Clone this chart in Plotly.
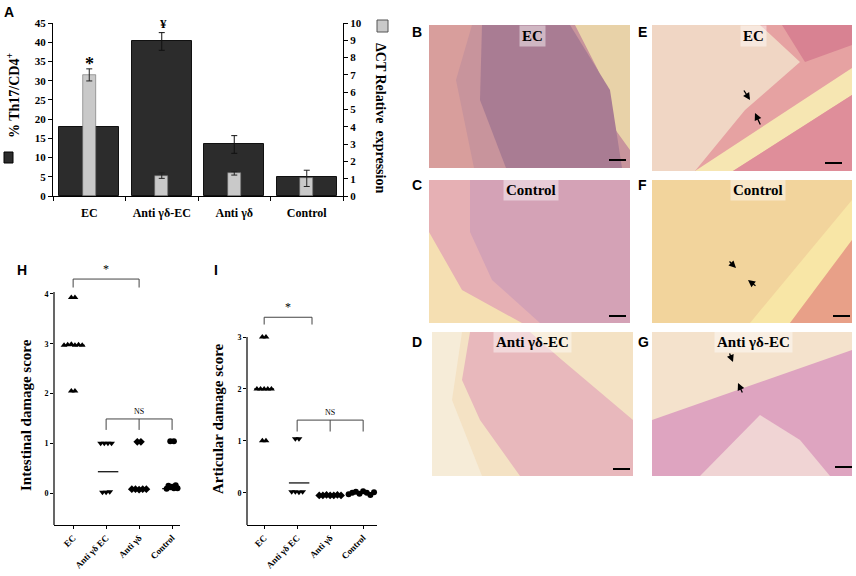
"""
Th17 / gamma-delta figure: bar chart (A), histology placeholders (B-G)
and damage score dot plots (H, I), all in one Plotly page.
"""

import plotly.graph_objects as go

W, H = 856, 576
SERIF = "Liberation Serif"
SANS = "Liberation Sans"

# ---- panel A data ----
GROUPS_A = ["EC", "Anti γδ-EC", "Anti γδ", "Control"]
TH17_PCT = [17.9, 40.2, 13.4, 5.0]
TH17_ERR = [0.0, 2.3, 2.3, 0.0]
DCT_REL = [7.0, 1.18, 1.31, 1.02]
DCT_ERR = [0.35, 0.16, 0.1, 0.47]

# ---- panels H / I data ----
SCORE_GROUPS = ["EC", "Anti γδ EC", "Anti γδ", "Control"]
INTESTINAL = [
    [3.93, 3.93, 2.97, 2.98, 2.99, 2.97, 2.98, 2.97, 2.05, 2.05],
    [1.0, 1.0, 1.0, 1.0, 0.02, 0.02, 0.03],
    [1.03, 1.03, 0.08, 0.08, 0.07, 0.08, 0.08],
    [1.04, 1.04, 0.09, 0.12, 0.15, 0.1, 0.13, 0.16, 0.1],
]
INTESTINAL_LINE = [2.97, 0.43, 0.08, 0.09]
ARTICULAR = [
    [3.0, 3.0, 2.0, 2.0, 2.0, 2.0, 2.0, 1.0, 1.0],
    [1.04, 1.04, 0.02, 0.02, 0.01, 0.02],
    [-0.05, -0.05, -0.04, -0.05, -0.05, -0.04, -0.05],
    [-0.03, 0.0, 0.02, -0.02, 0.03, 0.0, -0.04, 0.01, 0.02],
]
ARTICULAR_LINE = [2.0, 0.19, -0.05, 0.0]
SYMBOLS = ["triangle-up", "triangle-down", "diamond", "circle"]


def px(x):
    return x / W


def py(y):
    return 1 - y / H


def beeswarm(values, spacing=0.11, bin_size=0.25):
    # spread points that share a row evenly around the group centre
    rows = {}
    for i, v in enumerate(values):
        rows.setdefault(round(v / bin_size), []).append(i)
    offsets = [0.0] * len(values)
    for idx in rows.values():
        k = len(idx)
        for j, i in enumerate(idx):
            offsets[i] = (j - (k - 1) / 2) * spacing
    return offsets


fig = go.Figure()

# ---------------- panel A ----------------
fig.add_trace(go.Bar(
    x=list(range(4)), y=TH17_PCT, width=0.83,
    marker=dict(color="#2c2c2c", line=dict(color="#111111", width=1)),
    error_y=dict(type="data", array=TH17_ERR, color="#111111", thickness=1, width=3),
    xaxis="x", yaxis="y", showlegend=False,
))
fig.add_trace(go.Bar(
    x=list(range(4)), y=DCT_REL, width=0.18,
    marker=dict(color="#c9c9c9", line=dict(color="#6a6a6a", width=0.6)),
    error_y=dict(type="data", array=DCT_ERR, color="#222222", thickness=1, width=3),
    xaxis="x", yaxis="y2", showlegend=False,
))

# ---------------- panels H and I ----------------
H_AX = dict(xdom=(54, 180), xr=(-0.58, 3.24), ydom=(525, 292), yr=(-0.64, 4.04))
I_AX = dict(xdom=(247, 377), xr=(-0.52, 3.42), ydom=(525, 337), yr=(-0.62, 3.0))


def add_scores(groups, lines, xa, ya, half_line):
    for g, vals in enumerate(groups):
        offs = beeswarm(vals)
        fig.add_trace(go.Scatter(
            x=[g + o for o in offs], y=vals, mode="markers",
            marker=dict(symbol=SYMBOLS[g], size=6, color="black"),
            xaxis=xa, yaxis=ya, showlegend=False, cliponaxis=False,
        ))
        fig.add_trace(go.Scatter(
            x=[g - half_line[g][0], g + half_line[g][1]], y=[lines[g], lines[g]],
            mode="lines", line=dict(color="black", width=1.2),
            xaxis=xa, yaxis=ya, showlegend=False,
        ))


add_scores(INTESTINAL, INTESTINAL_LINE, "x2", "y3",
           [(0.27, 0.35), (0.25, 0.37), (0.3, 0.3), (0.3, 0.3)])
add_scores(ARTICULAR, ARTICULAR_LINE, "x3", "y4",
           [(0.3, 0.3), (0.25, 0.37), (0.3, 0.3), (0.3, 0.3)])

shapes = []
annotations = []


def to_paper(ax, xv, yv):
    x0, x1 = ax["xdom"]
    r0, r1 = ax["xr"]
    xp = x0 + (xv - r0) / (r1 - r0) * (x1 - x0)
    yb, yt = ax["ydom"]
    s0, s1 = ax["yr"]
    yp = yb - (yv - s0) / (s1 - s0) * (yb - yt)
    return xp, yp


def pline(x0, y0, x1, y1, color="black", width=1):
    shapes.append(dict(type="line", xref="paper", yref="paper",
                       x0=px(x0), y0=py(y0), x1=px(x1), y1=py(y1),
                       line=dict(color=color, width=width)))


def bracket(ax, xa, xb, yv, drop, ticks, label, lsize):
    xa_p, y_p = to_paper(ax, xa, yv)
    xb_p, _ = to_paper(ax, xb, yv)
    _, yd_p = to_paper(ax, xa, yv - drop)
    pline(xa_p, y_p, xb_p, y_p, "#444444", 1)
    for t in ticks:
        tx, _ = to_paper(ax, t, yv)
        pline(tx, y_p, tx, yd_p, "#444444", 1)
    annotations.append(dict(x=px((xa_p + xb_p) / 2), y=py(y_p - 1), xref="paper", yref="paper",
                            text=label, showarrow=False, xanchor="center", yanchor="bottom",
                            font=dict(family=SERIF, size=lsize, color="black")))


bracket(H_AX, 0, 2, 4.3, 0.17, [0, 2], "*", 12)
bracket(H_AX, 1, 3, 1.49, 0.22, [1, 2, 3], "NS", 8)
bracket(I_AX, 0, 1.45, 3.38, 0.14, [0, 1.45], "*", 12)
bracket(I_AX, 1, 3, 1.4, 0.22, [1, 2, 3], "NS", 8)

# ---------------- histology placeholders ----------------


def poly(points, color):
    d = "M " + " L ".join(f"{px(x):.5f},{py(y):.5f}" for x, y in points) + " Z"
    shapes.append(dict(type="path", xref="paper", yref="paper", path=d,
                       fillcolor=color, line=dict(width=0), layer="below"))


def rect(x0, y0, x1, y1, color):
    shapes.append(dict(type="rect", xref="paper", yref="paper",
                       x0=px(x0), y0=py(y1), x1=px(x1), y1=py(y0),
                       fillcolor=color, line=dict(width=0), layer="below"))


# B
rect(429, 25, 630, 168, "#c8949c")
poly([(429, 25), (472, 25), (456, 80), (474, 168), (429, 168)], "#d89e9c")
poly([(575, 25), (630, 25), (630, 150), (612, 125), (598, 70)], "#e8d2a8")
poly([(482, 25), (570, 25), (610, 90), (622, 168), (506, 168), (480, 100)], "#a97c93")
# E
rect(652, 25, 852, 171, "#e6a2a2")
poly([(652, 25), (760, 25), (800, 62), (745, 110), (695, 171), (652, 171)], "#f0d6c4")
poly([(695, 171), (852, 68), (852, 95), (733, 171)], "#f6e6b2")
poly([(733, 171), (852, 95), (852, 171)], "#df8e9a")
poly([(782, 25), (852, 25), (852, 45), (805, 62)], "#d88292")
# C
rect(429, 180, 630, 323, "#e6b0b4")
poly([(470, 180), (630, 180), (630, 323), (540, 323), (492, 280), (470, 232)], "#d4a2b6")
poly([(429, 232), (462, 290), (522, 323), (429, 323)], "#f5dfb2")
# F
rect(652, 180, 852, 323, "#f2d49c")
poly([(750, 323), (852, 200), (852, 240), (790, 323)], "#f8e6a6")
poly([(790, 323), (852, 240), (852, 323)], "#e8a088")
# D
rect(432, 332, 633, 476, "#f4e2c4")
poly([(432, 332), (462, 332), (452, 400), (482, 476), (432, 476)], "#f6ecd8")
poly([(470, 332), (530, 332), (562, 360), (633, 420), (633, 476), (520, 476),
      (480, 420), (462, 380)], "#e8b8bc")
# G
rect(652, 332, 852, 476, "#f4e2cc")
poly([(652, 420), (852, 350), (852, 476), (652, 476)], "#dea4c0")
poly([(700, 476), (760, 415), (800, 440), (830, 476)], "#f0d4d4")

# image labels on translucent boxes
for cx, cy, txt in [(532, 36, "EC"), (753, 36, "EC"), (531, 190, "Control"),
                    (758, 190, "Control"), (532, 342, "Anti γδ-EC"),
                    (753, 342, "Anti γδ-EC")]:
    annotations.append(dict(x=px(cx), y=py(cy), xref="paper", yref="paper", text=txt,
                            showarrow=False, xanchor="center", yanchor="middle",
                            bgcolor="rgba(255,255,255,0.45)", borderpad=2,
                            font=dict(family=SERIF, size=15, color="black", weight="bold")))

# scale bars
for x0, x1, y in [(609, 626, 160), (825, 842, 163), (609, 626, 316),
                  (833, 850, 316), (613, 630, 469), (835, 852, 467)]:
    pline(x0, y, x1, y, "black", 2)

# arrows (head, tail) in pixels
for hx, hy, tx, ty in [(750, 100, 743, 89), (755, 113, 761, 126),
                       (736, 268, 728, 260), (748, 280, 757, 287),
                       (733, 362, 729, 352), (738, 383, 743, 394)]:
    annotations.append(dict(x=px(hx), y=py(hy), xref="paper", yref="paper",
                            ax=tx - hx, ay=ty - hy,
                            text="", showarrow=True, arrowhead=2, arrowsize=1.1,
                            arrowwidth=1.3, arrowcolor="black"))

# ---------------- panel A decorations ----------------
rect(4, 152, 13, 163, "#2c2c2c")
shapes.append(dict(type="rect", xref="paper", yref="paper", x0=px(4), y0=py(163),
                   x1=px(13), y1=py(152), line=dict(color="black", width=1)))
rect(377, 20, 388, 32, "#c9c9c9")
shapes.append(dict(type="rect", xref="paper", yref="paper", x0=px(377), y0=py(32),
                   x1=px(388), y1=py(20), line=dict(color="#555555", width=1)))

# y-axis lines of H and I
for ax in (H_AX, I_AX):
    xl = ax["xdom"][0]
    pline(xl, ax["ydom"][0], xl, ax["ydom"][1], "black", 1.2)


def text(x, y, s, size, family=SERIF, angle=0, bold=True):
    annotations.append(dict(x=px(x), y=py(y), xref="paper", yref="paper", text=s,
                            showarrow=False, textangle=angle,
                            xanchor="center", yanchor="middle",
                            font=dict(family=family, size=size, color="black",
                                      weight="bold" if bold else "normal")))


text(89, 64, "*", 18)
text(163, 23, "¥", 13)
text(13, 96, "% Th17/CD4<sup>+</sup>", 14, angle=-90)
text(381, 118, "ΔCT Relative  expression", 14, angle=90)
text(26, 415, "Intestinal damage score", 15, angle=-90)
text(218, 419, "Articular damage score", 15, angle=-90)

for x, y, s in [(9, 12, "A"), (417, 32, "B"), (417, 185, "C"), (417, 342, "D"),
                (642, 32, "E"), (642, 185, "F"), (643, 342, "G"),
                (22, 270, "H"), (216, 270, "I")]:
    text(x, y, s, 14, family=SANS)

# ---------------- layout ----------------
tick_serif = dict(family=SERIF, size=11, color="black", weight="bold")
small_serif = dict(family=SERIF, size=8, color="black", weight="bold")
common = dict(automargin=False, showgrid=False, zeroline=False,
              tickcolor="black", linecolor="black")

fig.update_layout(
    width=W, height=H, margin=dict(l=0, r=0, t=0, b=0, autoexpand=False),
    paper_bgcolor="white", plot_bgcolor="rgba(0,0,0,0)",
    barmode="overlay", bargap=0,
    xaxis=dict(domain=[px(53), px(343)], range=[-0.5, 3.5], anchor="y",
               tickvals=list(range(4)), ticktext=GROUPS_A, ticks="",
               tickfont=dict(family=SERIF, size=12, color="black", weight="bold"),
               showline=True, linewidth=1, ticklabelstandoff=6,
               minor=dict(tickvals=[-0.5, 0.5, 1.5, 2.5, 3.5], ticks="outside",
                          ticklen=4, tickcolor="black"), **common),
    yaxis=dict(domain=[py(196), py(23)], range=[0, 45], dtick=5, anchor="x",
               ticks="outside", ticklen=4, tickfont=tick_serif,
               showline=True, linewidth=1, **common),
    yaxis2=dict(range=[0, 10], dtick=1, overlaying="y", side="right", anchor="x",
                ticks="outside", ticklen=4, tickfont=tick_serif,
                showline=True, linewidth=1, **common),
    xaxis2=dict(domain=[px(H_AX["xdom"][0]), px(H_AX["xdom"][1])], range=list(H_AX["xr"]),
                anchor="y3", tickvals=list(range(4)), ticktext=SCORE_GROUPS,
                tickangle=-45, ticks="outside", ticklen=3,
                tickfont=dict(family=SERIF, size=9, color="black", weight="bold"),
                showline=True, linewidth=1.2, **common),
    yaxis3=dict(domain=[py(H_AX["ydom"][0]), py(H_AX["ydom"][1])], range=list(H_AX["yr"]),
                anchor="x2", tickvals=[0, 1, 2, 3, 4], ticks="outside", ticklen=3,
                tickfont=small_serif, showline=False, **common),
    xaxis3=dict(domain=[px(I_AX["xdom"][0]), px(I_AX["xdom"][1])], range=list(I_AX["xr"]),
                anchor="y4", tickvals=list(range(4)), ticktext=SCORE_GROUPS,
                tickangle=-45, ticks="outside", ticklen=3,
                tickfont=dict(family=SERIF, size=9, color="black", weight="bold"),
                showline=True, linewidth=1.2, **common),
    yaxis4=dict(domain=[py(I_AX["ydom"][0]), py(I_AX["ydom"][1])], range=list(I_AX["yr"]),
                anchor="x3", tickvals=[0, 1, 2, 3], ticks="outside", ticklen=3,
                tickfont=small_serif, showline=False, **common),
    shapes=shapes,
    annotations=annotations,
)

# the page body has a default 8px margin; drop it so the figure sits at 0,0
fig.write_html("out.html", config={"displayModeBar": False},
               post_script="document.body.style.margin='0';")
